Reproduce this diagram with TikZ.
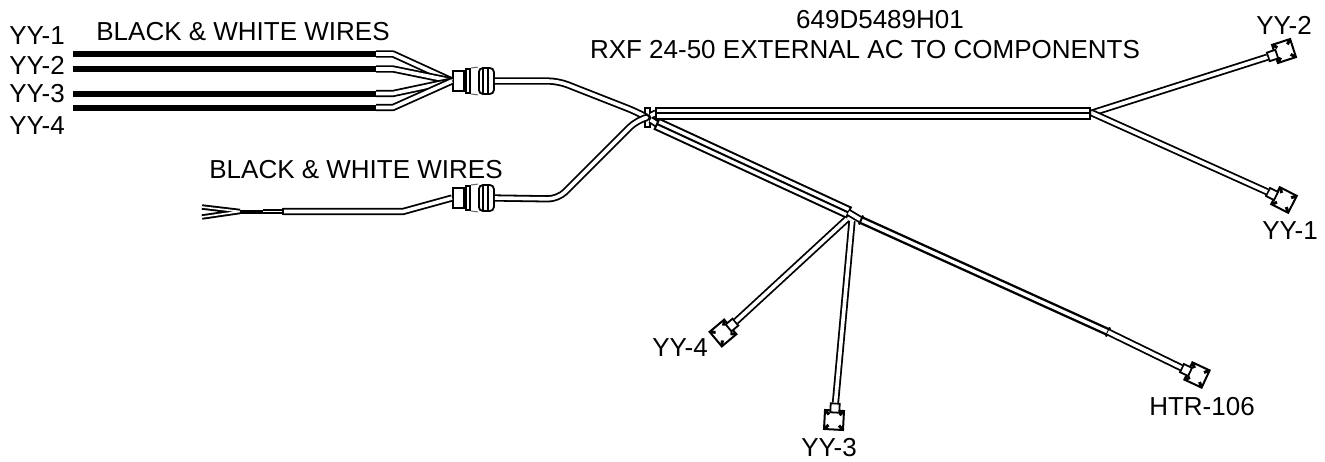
\documentclass[tikz,border=0pt]{standalone}
\usepackage{fontspec}
\setmainfont{Liberation Sans}
\usetikzlibrary{calc,positioning}

\tikzset{
  lbl/.style={font=\fontsize{26}{30}\selectfont, inner sep=0pt},
  blackwire/.style={line width=6pt},
  wire/.style={double, double distance=3.6pt, line width=1.8pt, line join=round},
  strand/.style={double, double distance=1.6pt, line width=1.9pt},
  sheath/.style={double, double distance=9pt, line width=2pt},
  midline/.style={line width=2pt},
  tube/.style={double, double distance=3.4pt, line width=2.4pt},
  gneck/.style={draw, line width=2pt, minimum width=11pt, minimum height=20pt, inner sep=0pt},
  gflange/.style={draw, line width=2pt, minimum width=4pt, minimum height=24pt, inner sep=0pt},
  gboot/.style={draw, line width=1.8pt, rounded corners=4pt,
    minimum width=15pt, minimum height=26pt, inner sep=0pt,
    path picture={\draw[line width=1.8pt] ([xshift=4pt]path picture bounding box.north west) -- ([xshift=4pt]path picture bounding box.south west)
      ([xshift=9pt]path picture bounding box.north west) -- ([xshift=9pt]path picture bounding box.south west);}},
  band/.style={draw, fill=white, line width=2pt, inner sep=0pt},
  neck/.style={draw, fill=white, line width=1.8pt, minimum size=9pt, inner sep=0pt, rotate=#1},
  plug/.style={draw, fill=white, line width=2pt, minimum size=19pt, inner sep=0pt, rotate=#1}
}

\begin{document}
\begin{tikzpicture}[x=1pt,y=-1pt]
\useasboundingbox (0,0) rectangle (1325,461);

% labels
\node[lbl] (yy1a) at (37,36) {YY-1};
\node[lbl] (yy2a) at (37,65) {YY-2};
\node[lbl] (yy3a) at (37,94) {YY-3};
\node[lbl] (yy4a) at (37,126) {YY-4};
\node[lbl] (bw1) at (243,32) {BLACK \& WHITE WIRES};
\node[lbl] (bw2) at (356,170) {BLACK \& WHITE WIRES};
\node[lbl] (partno) at (880,20) {649D5489H01};
\node[lbl] (title) at (865,50) {RXF 24-50 EXTERNAL AC TO COMPONENTS};
\node[lbl] (yy2b) at (1284,25) {YY-2};
\node[lbl] (yy1b) at (1290,231) {YY-1};
\node[lbl] (yy4b) at (680,348) {YY-4};
\node[lbl] (yy3b) at (829,448) {YY-3};
\node[lbl] (htr) at (1202,407) {HTR-106};

% grommets
\node[gneck] (g1) at (458.5,81) {};
\node[gflange, right=0pt of g1] (g1f) {};
\node[gboot, right=7pt of g1f] (g1b) {};
\node[gneck] (g2) at (458.5,198) {};
\node[gflange, right=0pt of g2] (g2f) {};
\node[gboot, right=7pt of g2f] (g2b) {};
\draw[line width=1pt, black!60] (g1f.north east) -- (g1b.north west) (g1f.south east) -- (g1b.south west)
  (g2f.north east) -- (g2b.north west) (g2f.south east) -- (g2b.south west);

% black wires into the first grommet
\foreach \n/\y in {1/54,2/69,3/93.5,4/107.5}{
  \coordinate (s\n) at (73,\y);
  \coordinate (e\n) at (376,\y);
  \coordinate (b\n) at (393,\y);
  \draw[wire] (e\n) -- (b\n) -- (g1.west);
  \draw[blackwire] (s\n) -- (e\n);
}

% cables to the junction
\coordinate (uc) at (558,81);
\coordinate (up) at (637,112);
\coordinate (lc) at (558,199);
\coordinate (lp) at (637,120);
\node[band, minimum width=5pt, minimum height=19pt] (jn) at (647,117.5) {};
\draw[wire, rounded corners=10pt] (g1b.east) -- (uc) -- (up) -- (jn);
\draw[wire, rounded corners=10pt] (g2b.east) -- (lc) -- (lp) -- (jn);

% free end of the second cable
\coordinate (tipa) at (202,207);
\coordinate (tipb) at (202,217);
\coordinate (tipm) at (240,211.5);
\coordinate (tipn) at (263,211.5);
\coordinate (cabs) at (283,211.5);
\coordinate (cabk) at (403,211.5);
\draw[wire] (cabs) -- (cabk) -- (g2.west);
\draw[strand] (tipa) -- (tipm) (tipb) -- (tipm);
\draw[line width=4pt] (tipm) -- (tipn);
\draw[strand] (tipn) -- (cabs);
\draw[line width=1.4pt] (cabs)+(0,-3.5) -- +(0,3.5);

% main sheath and fork
\coordinate (ma) at (656,113);
\coordinate (mb) at (1090,113);
\coordinate (fork) at (1092,113);
\draw[wire] (jn) -- (ma);
\draw[sheath] (ma) -- (mb);
\draw[midline] (ma) -- (mb);
\draw[line width=2pt] (ma)+(0,-6.5) -- +(0,6.5) (mb)+(0,-6.5) -- +(0,6.5);
\node[plug=18] (p2) at (1284,51) {};
\node[neck=18] (n2) at (1272.5,55.5) {};
\node[plug=-27] (p1) at (1284,200) {};
\node[neck=-27] (n1) at (1272,194) {};
\draw[wire] (fork) -- (n2);
\draw[wire] (fork) -- (n1);

% branch sheath
\coordinate (ba) at (657,124);
\coordinate (bb) at (848.5,212.5);
\coordinate (tb) at (861,220);
\coordinate (tc) at (1108,332);
\draw[wire] (jn) -- (ba);
\draw[sheath] (ba) -- (bb);
\draw[midline] (ba) -- (bb);
\draw[line width=2pt] ($(ba)!6.5pt!90:(bb)$) -- ($(ba)!6.5pt!-90:(bb)$) ($(bb)!6.5pt!90:(ba)$) -- ($(bb)!6.5pt!-90:(ba)$);
\draw[wire] (bb) -- (tb);
\draw[tube] (tb) -- (tc);
\draw[line width=2pt] ($(tb)!5pt!90:(tc)$) -- ($(tb)!5pt!-90:(tc)$) ($(tc)!5pt!90:(tb)$) -- ($(tc)!5pt!-90:(tb)$);
\node[plug=-25] (p5) at (1197,375) {};
\node[neck=-25] (n5) at (1186,370) {};
\draw[wire] (tc) -- (n5);

% drops to YY-4 and YY-3
\coordinate (dra) at (847,219);
\coordinate (drb) at (852,221);
\node[plug=40] (p4) at (723,333) {};
\node[neck=40] (n4) at (732,325) {};
\node[plug=-3] (p3) at (834,420) {};
\node[neck=-3] (n3) at (835,408) {};
\draw[wire] (dra) -- (n4);
\draw[wire] (drb) -- (n3);

% corner marks inside the plugs
\foreach \p in {p1,p2,p3,p4,p5}
  \foreach \c in {north east,north west,south east,south west}
    \draw[line width=3pt] ($(\p.\c)!0.15!(\p.center)$) -- ($(\p.\c)!0.5!(\p.center)$);

\end{tikzpicture}
\end{document}
